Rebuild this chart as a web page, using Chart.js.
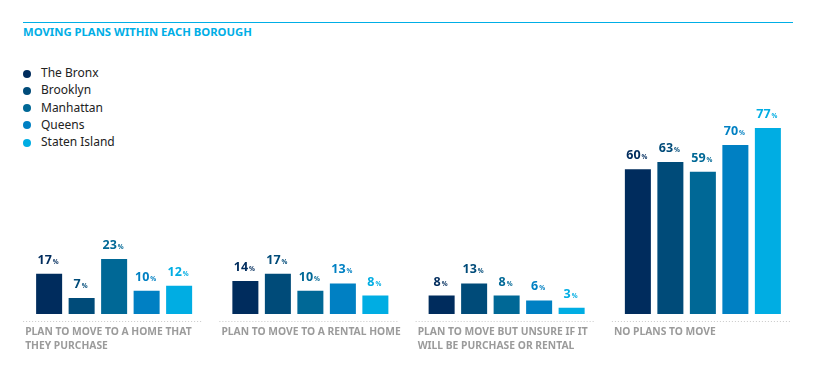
<!DOCTYPE html>
<html>
<head>
<meta charset="utf-8">
<script src="https://cdn.jsdelivr.net/npm/chart.js@4.4.0/dist/chart.umd.min.js"></script>
<style>
  body { margin: 0; background: #fff; font-family: "Noto Sans", sans-serif; }
  #wrap { position: relative; width: 816px; height: 370px; }
  #rule { position: absolute; left: 23px; top: 22px; width: 770px; height: 0; border-top: 1.5px solid #00aee6; }
  #title { position: absolute; left: 23px; top: 26px; line-height: 12px; font-size: 11.3px; font-weight: bold; color: #00aee6; }
  #legend { position: absolute; left: 23px; top: 64px; }
  .item { height: 17.25px; line-height: 17.25px; font-size: 12px; color: #222; }
  .dot { display: inline-block; width: 8px; height: 8px; border-radius: 50%; margin-right: 10px; vertical-align: -0.5px; }
  canvas { position: absolute; left: 0; top: 0; }
</style>
</head>
<body>
<div id="wrap">
  <div id="rule"></div>
  <div id="title">MOVING PLANS WITHIN EACH BOROUGH</div>
  <div id="legend"></div>
  <canvas id="chart" width="816" height="370"></canvas>
</div>
<script>
const categories = [
  ["PLAN TO MOVE TO A HOME THAT", "THEY PURCHASE"],
  ["PLAN TO MOVE TO A RENTAL HOME"],
  ["PLAN TO MOVE BUT UNSURE IF IT", "WILL BE PURCHASE OR RENTAL"],
  ["NO PLANS TO MOVE"]
];
const boroughs = ["The Bronx", "Brooklyn", "Manhattan", "Queens", "Staten Island"];
const bronx = [17, 14, 8, 60];
const brooklyn = [7, 17, 13, 63];
const manhattan = [23, 10, 8, 59];
const queens = [10, 13, 6, 70];
const statenIsland = [12, 8, 3, 77];
const colors = ["#002c5d", "#004b79", "#006896", "#0080c3", "#00ade3"];

const seriesValues = [bronx, brooklyn, manhattan, queens, statenIsland];

// html legend
let legendHtml = "";
boroughs.forEach((b, i) => {
  legendHtml += `<div class="item"><span class="dot" style="background:${colors[i]}"></span>${b}</div>`;
});
document.getElementById("legend").innerHTML = legendHtml;

// draws value labels, dotted baselines and category labels
const labelPlugin = {
  id: "labelPlugin",
  afterDatasetsDraw(chart) {
    const ctx = chart.ctx;
    const xScale = chart.scales.x;
    const yScale = chart.scales.y;
    ctx.save();
    chart.data.datasets.forEach((ds, i) => {
      const meta = chart.getDatasetMeta(i);
      meta.data.forEach((bar, j) => {
        const num = String(ds.data[j]);
        ctx.font = "bold 12.5px 'Noto Sans'";
        const w1 = ctx.measureText(num).width;
        ctx.font = "bold 6.5px 'Noto Sans'";
        const w2 = ctx.measureText("%").width;
        const x0 = bar.x - (w1 + w2 + 1) / 2 - 1;
        const y = bar.y - 9;
        ctx.fillStyle = colors[i];
        ctx.textAlign = "left";
        ctx.textBaseline = "alphabetic";
        ctx.font = "bold 12.5px 'Noto Sans'";
        ctx.fillText(num, x0, y);
        ctx.font = "bold 6.5px 'Noto Sans'";
        ctx.fillText("%", x0 + w1 + 1, y);
      });
    });
    const base = yScale.getPixelForValue(0);
    categories.forEach((lines, k) => {
      const cx = xScale.getPixelForValue(k);
      const left = cx - 91;
      ctx.strokeStyle = "#c8c8c8";
      ctx.lineWidth = 1;
      ctx.setLineDash([1, 2]);
      ctx.beginPath();
      ctx.moveTo(left, base + 7.5);
      ctx.lineTo(cx + 89, base + 7.5);
      ctx.stroke();
      ctx.setLineDash([]);
      ctx.fillStyle = "#9b9b9b";
      ctx.font = "bold 10.3px 'Noto Sans'";
      ctx.textAlign = "left";
      lines.forEach((t, n) => {
        ctx.fillText(t, left + 2, base + 21 + n * 13.5);
      });
    });
    ctx.restore();
  }
};

const ctx = document.getElementById("chart");
new Chart(ctx, {
  type: "bar",
  data: {
    labels: categories.map(c => c.join(" ")),
    datasets: boroughs.map((b, i) => ({
      label: b,
      data: seriesValues[i],
      backgroundColor: colors[i],
      borderColor: "rgba(255,255,255,0.35)",
      borderWidth: 1,
      categoryPercentage: 0.828,
      barPercentage: 0.862
    }))
  },
  options: {
    responsive: false,
    animation: false,
    layout: { padding: { left: 16, right: 15, top: 71, bottom: 56 } },
    plugins: { legend: { display: false }, tooltip: { enabled: false } },
    scales: {
      x: { display: false },
      y: { display: false, min: 0, max: 100 }
    }
  },
  plugins: [labelPlugin]
});
</script>
</body>
</html>
